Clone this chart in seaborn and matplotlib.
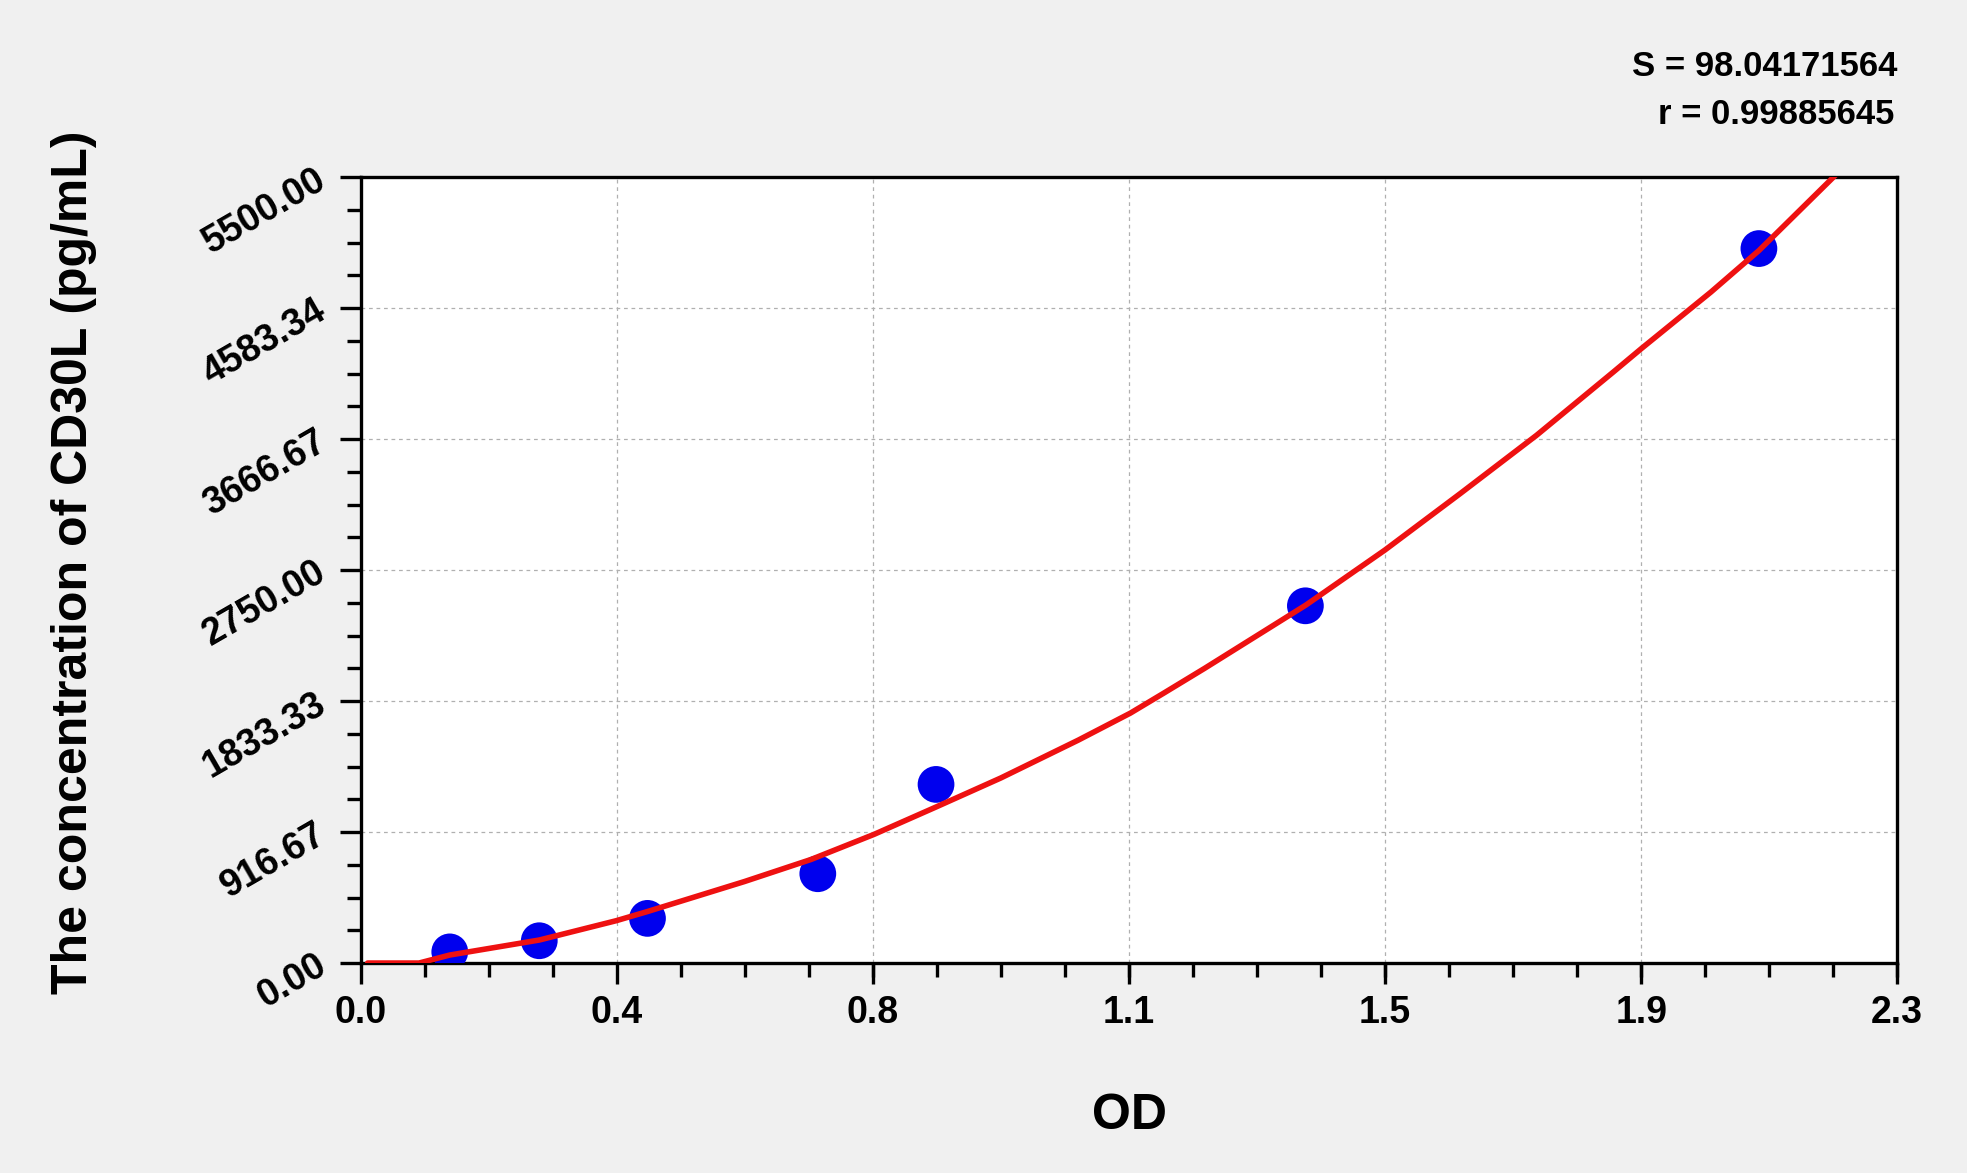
import matplotlib
matplotlib.use("Agg")
import matplotlib.pyplot as plt
from matplotlib.ticker import AutoMinorLocator
import seaborn as sns
import pandas as pd

# standard points (OD vs concentration)
od_values = [0.133, 0.267, 0.429, 0.684, 0.861, 1.414, 2.093]
conc_values = [78, 156, 312.5, 625, 1250, 2500, 5000]

# fitted curve
curve_od = [0.010, 0.087, 0.133, 0.267, 0.382, 0.428, 0.574, 0.674, 0.768,
            0.862, 0.958, 1.074, 1.152, 1.202, 1.263, 1.415, 1.533, 1.646,
            1.760, 1.875, 1.917, 2.021, 2.093, 2.212]
curve_conc = [0, 0, 56, 161, 296, 359, 570, 725, 900, 1094, 1295, 1560,
              1749, 1889, 2062, 2506, 2890, 3286, 3693, 4136, 4300, 4695,
              4986, 5534]

x_ticks = [0, 0.3833, 0.7667, 1.15, 1.5333, 1.9167, 2.3]
x_labels = ["0.0", "0.4", "0.8", "1.1", "1.5", "1.9", "2.3"]
y_ticks = [0, 916.67, 1833.33, 2750, 3666.67, 4583.34, 5500]
y_labels = ["0.00", "916.67", "1833.33", "2750.00", "3666.67", "4583.34", "5500.00"]

stats_text = ["S = 98.04171564", "r = 0.99885645"]

sns.set_style("white")
plt.rcParams['font.family'] = ['Liberation Sans', 'DejaVu Sans']
plt.rcParams['font.weight'] = 'bold'
plt.rcParams['text.color'] = 'black'
plt.rcParams['axes.labelcolor'] = 'black'
plt.rcParams['xtick.color'] = 'black'
plt.rcParams['ytick.color'] = 'black'

points = pd.DataFrame({"OD": od_values, "conc": conc_values})
curve = pd.DataFrame({"OD": curve_od, "conc": curve_conc})

fig = plt.figure(figsize=(19.67, 11.73), dpi=100, facecolor='#f0f0f0')
ax = fig.add_axes([0.1835, 0.179, 0.781, 0.670])
ax.set_facecolor('white')

sns.scatterplot(data=points, x="OD", y="conc", s=700, color='#0000ee',
                edgecolor='none', ax=ax, zorder=3)
sns.lineplot(data=curve, x="OD", y="conc", color='#ee1111', linewidth=4,
             estimator=None, sort=False, ax=ax, zorder=4)

ax.set_xlim(0, 2.3)
ax.set_ylim(0, 5500)
ax.set_xticks(x_ticks)
ax.set_xticklabels(x_labels)
ax.set_yticks(y_ticks)
ax.set_yticklabels(y_labels, rotation=30, rotation_mode='anchor',
                   ha='right', va='center')
ax.xaxis.set_minor_locator(AutoMinorLocator(4))
ax.yaxis.set_minor_locator(AutoMinorLocator(4))

ax.tick_params(which='major', direction='out', length=15, width=2.4,
               labelsize=27, pad=8)
ax.tick_params(axis='y', which='major', pad=12)
ax.tick_params(which='minor', direction='out', length=10, width=2.4)
ax.tick_params(which='both', top=False, right=False, bottom=True, left=True)
for lab in ax.get_xticklabels() + ax.get_yticklabels():
    lab.set_fontweight('bold')

ax.grid(True, which='major', color='#b0b0b0', linestyle=(0, (3, 3)),
        linewidth=0.9)
for sp in ax.spines.values():
    sp.set_visible(True)
    sp.set_color('black')
    sp.set_linewidth(2.4)

ax.set_xlabel("OD", fontsize=36, fontweight='bold')
ax.set_ylabel("The concentration of CD30L (pg/mL)", fontsize=36,
              fontweight='bold')
ax.xaxis.set_label_coords(0.5, -0.165)
ax.yaxis.set_label_coords(-0.172, 0.51)

fig.text(0.9645, 1 - 67 / 1173, stats_text[0], ha='right', va='center',
         fontsize=25, fontweight='bold')
fig.text(0.9630, 1 - 114 / 1173, stats_text[1], ha='right', va='center',
         fontsize=25, fontweight='bold')

fig.savefig("out.png", dpi=100, facecolor=fig.get_facecolor())
